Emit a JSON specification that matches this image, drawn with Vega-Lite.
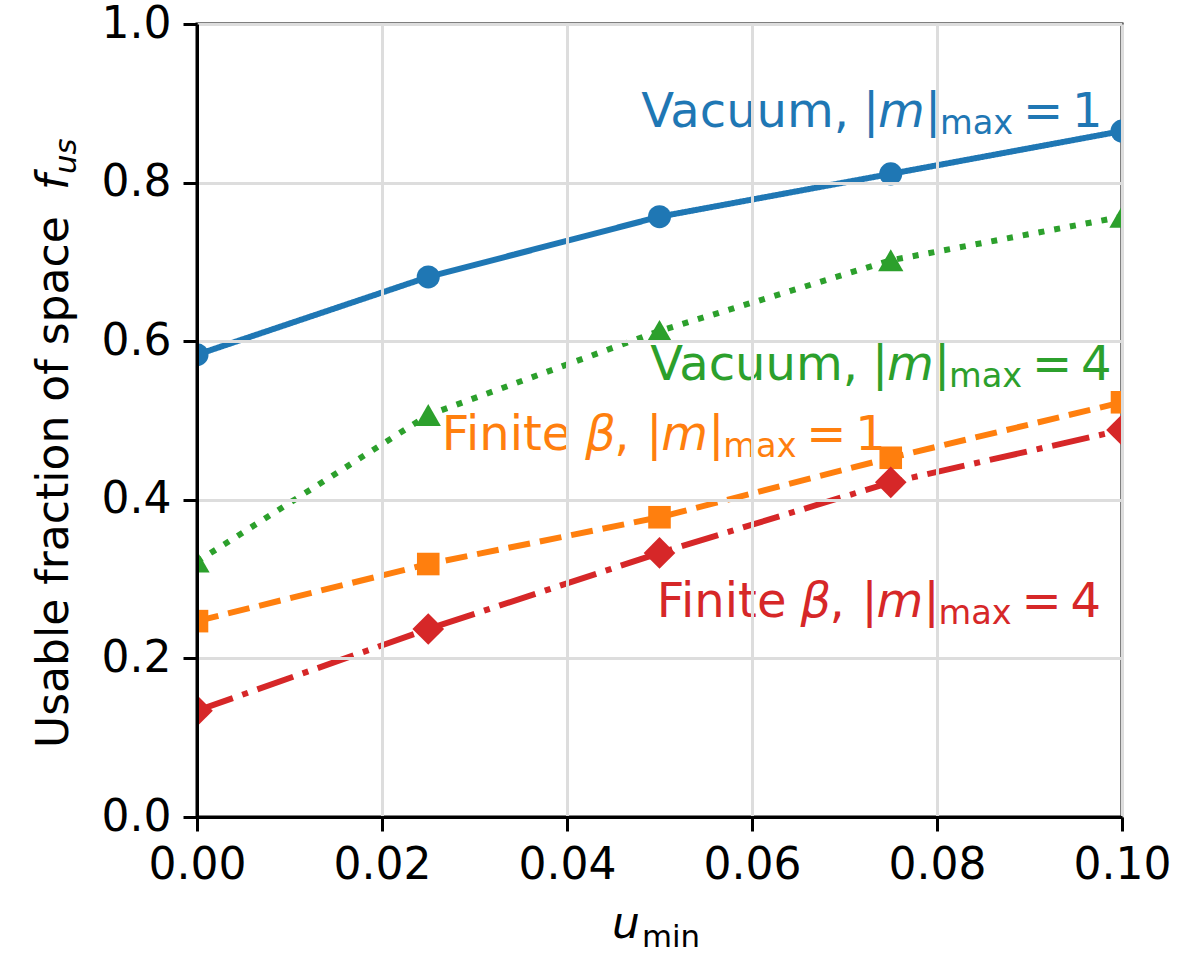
{
  "$schema": "https://vega.github.io/schema/vega-lite/v6.json",
  "width": 925,
  "height": 793,
  "autosize": {"type": "none"},
  "padding": {"left": 197, "top": 24, "right": 56, "bottom": 141},
  "background": "white",
  "config": {
    "view": {"stroke": "black", "strokeWidth": 3},
    "axis": {
      "domainColor": "black", "domainWidth": 3,
      "tickColor": "black", "tickWidth": 3, "tickSize": 14,
      "labelFont": "DejaVu Sans", "labelFontSize": 44, "labelColor": "black", "labelPadding": 12,
      "gridColor": "#dddddd", "gridWidth": 3,
      "labelFlush": false, "labelOverlap": false
    },
    "text": {"font": "DejaVu Sans"}
  },
  "datasets": {
    "pts": [
      {"series": "vac1", "u": 0.0, "f": 0.583},
      {"series": "vac1", "u": 0.025, "f": 0.681},
      {"series": "vac1", "u": 0.05, "f": 0.757},
      {"series": "vac1", "u": 0.075, "f": 0.811},
      {"series": "vac1", "u": 0.1, "f": 0.865},
      {"series": "vac4", "u": 0.0, "f": 0.322},
      {"series": "vac4", "u": 0.025, "f": 0.507},
      {"series": "vac4", "u": 0.05, "f": 0.613},
      {"series": "vac4", "u": 0.075, "f": 0.702},
      {"series": "vac4", "u": 0.1, "f": 0.757},
      {"series": "fin1", "u": 0.0, "f": 0.247},
      {"series": "fin1", "u": 0.025, "f": 0.319},
      {"series": "fin1", "u": 0.05, "f": 0.378},
      {"series": "fin1", "u": 0.075, "f": 0.453},
      {"series": "fin1", "u": 0.1, "f": 0.523},
      {"series": "fin4", "u": 0.0, "f": 0.134},
      {"series": "fin4", "u": 0.025, "f": 0.237},
      {"series": "fin4", "u": 0.05, "f": 0.333},
      {"series": "fin4", "u": 0.075, "f": 0.422},
      {"series": "fin4", "u": 0.1, "f": 0.488}
    ],
    "labels": [
      {"series": "vac1", "g": "V", "pre": "Vacuum,", "num": "1", "lx": 0.0720, "ly": 0.8705},
      {"series": "vac4", "g": "V", "pre": "Vacuum,", "num": "4", "lx": 0.07297, "ly": 0.5511},
      {"series": "fin1", "g": "F", "pre": "Finite", "num": "1", "lx": 0.04858, "ly": 0.4628},
      {"series": "fin4", "g": "F", "pre": "Finite", "num": "4", "lx": 0.07183, "ly": 0.2526}
    ]
  },
  "encoding": {
    "color": {
      "field": "series", "type": "nominal", "legend": null,
      "scale": {"domain": ["vac1", "fin1", "vac4", "fin4"], "range": ["#1f77b4", "#ff7f0e", "#2ca02c", "#d62728"]}
    }
  },
  "layer": [
    {
      "data": {"name": "pts"},
      "mark": {"type": "line", "strokeWidth": 6, "clip": true},
      "encoding": {
        "x": {
          "field": "u", "type": "quantitative",
          "scale": {"domain": [0, 0.1], "nice": false, "zero": false},
          "axis": {"title": null, "values": [0, 0.02, 0.04, 0.06, 0.08, 0.1], "format": ".2f", "zindex": 1}
        },
        "y": {
          "field": "f", "type": "quantitative",
          "scale": {"domain": [0, 1], "nice": false},
          "axis": {"title": null, "values": [0, 0.2, 0.4, 0.6, 0.8, 1.0], "format": ".1f", "zindex": 1}
        },
        "strokeDash": {
          "field": "series", "type": "nominal", "legend": null,
          "scale": {"domain": ["vac1", "fin1", "vac4", "fin4"], "range": [[1, 0], [22, 10], [6, 10], [38, 10, 6, 10]]}
        }
      }
    },
    {
      "data": {"name": "pts"},
      "mark": {"type": "point", "filled": true, "opacity": 1, "clip": true},
      "encoding": {
        "x": {"field": "u", "type": "quantitative"},
        "y": {"field": "f", "type": "quantitative"},
        "shape": {
          "field": "series", "type": "nominal", "legend": null,
          "scale": {"domain": ["vac1", "fin1", "vac4", "fin4"], "range": ["circle", "square", "triangle-up", "diamond"]}
        },
        "size": {
          "field": "series", "type": "nominal", "legend": null,
          "scale": {"type": "ordinal", "domain": ["vac1", "fin1", "vac4", "fin4"], "range": [530, 510, 640, 1000]}
        }
      }
    },
    {
      "data": {"name": "labels"},
      "transform": [{"filter": "datum.g == 'V'"}],
      "mark": {"type": "text", "align": "right", "baseline": "alphabetic", "fontSize": 48, "dx": -14},
      "encoding": {"x": {"field": "lx", "type": "quantitative"}, "y": {"field": "ly", "type": "quantitative"}, "text": {"field": "pre"}}
    },
    {
      "data": {"name": "labels"},
      "transform": [{"filter": "datum.g == 'F'"}],
      "mark": {"type": "text", "align": "right", "baseline": "alphabetic", "fontSize": 48, "dx": -75},
      "encoding": {"x": {"field": "lx", "type": "quantitative"}, "y": {"field": "ly", "type": "quantitative"}, "text": {"field": "pre"}}
    },
    {
      "data": {"name": "labels"},
      "transform": [{"filter": "datum.g == 'F'"}],
      "mark": {"type": "text", "align": "left", "baseline": "alphabetic", "fontSize": 48, "fontStyle": "italic", "dx": -61},
      "encoding": {"x": {"field": "lx", "type": "quantitative"}, "y": {"field": "ly", "type": "quantitative"}, "text": {"value": "β"}}
    },
    {
      "data": {"name": "labels"},
      "transform": [{"filter": "datum.g == 'F'"}],
      "mark": {"type": "text", "align": "left", "baseline": "alphabetic", "fontSize": 48, "dx": -32},
      "encoding": {"x": {"field": "lx", "type": "quantitative"}, "y": {"field": "ly", "type": "quantitative"}, "text": {"value": ","}}
    },
    {
      "data": {"name": "labels"},
      "mark": {"type": "text", "align": "left", "baseline": "alphabetic", "fontSize": 48, "dx": 0},
      "encoding": {"x": {"field": "lx", "type": "quantitative"}, "y": {"field": "ly", "type": "quantitative"}, "text": {"value": "|"}}
    },
    {
      "data": {"name": "labels"},
      "mark": {"type": "text", "align": "left", "baseline": "alphabetic", "fontSize": 48, "fontStyle": "italic", "dx": 15},
      "encoding": {"x": {"field": "lx", "type": "quantitative"}, "y": {"field": "ly", "type": "quantitative"}, "text": {"value": "m"}}
    },
    {
      "data": {"name": "labels"},
      "mark": {"type": "text", "align": "left", "baseline": "alphabetic", "fontSize": 48, "dx": 62},
      "encoding": {"x": {"field": "lx", "type": "quantitative"}, "y": {"field": "ly", "type": "quantitative"}, "text": {"value": "|"}}
    },
    {
      "data": {"name": "labels"},
      "mark": {"type": "text", "align": "left", "baseline": "alphabetic", "fontSize": 33.6, "dx": 77, "dy": 7},
      "encoding": {"x": {"field": "lx", "type": "quantitative"}, "y": {"field": "ly", "type": "quantitative"}, "text": {"value": "max"}}
    },
    {
      "data": {"name": "labels"},
      "mark": {"type": "text", "align": "left", "baseline": "alphabetic", "fontSize": 48, "dx": 160},
      "encoding": {"x": {"field": "lx", "type": "quantitative"}, "y": {"field": "ly", "type": "quantitative"}, "text": {"value": "="}}
    },
    {
      "data": {"name": "labels"},
      "mark": {"type": "text", "align": "left", "baseline": "alphabetic", "fontSize": 48, "dx": 209},
      "encoding": {"x": {"field": "lx", "type": "quantitative"}, "y": {"field": "ly", "type": "quantitative"}, "text": {"field": "num"}}
    },
    {
      "data": {"values": [{"t": "Usable fraction of space"}]},
      "mark": {"type": "text", "align": "left", "baseline": "alphabetic", "fontSize": 44, "angle": 270, "dy": -129},
      "encoding": {"x": {"datum": 0, "type": "quantitative"}, "y": {"datum": 0.087, "type": "quantitative"}, "text": {"field": "t"}, "color": {"value": "black"}}
    },
    {
      "data": {"values": [{"t": "f"}]},
      "mark": {"type": "text", "align": "left", "baseline": "alphabetic", "fontSize": 44, "angle": 270, "fontStyle": "italic", "dx": 558, "dy": -129},
      "encoding": {"x": {"datum": 0, "type": "quantitative"}, "y": {"datum": 0.087, "type": "quantitative"}, "text": {"field": "t"}, "color": {"value": "black"}}
    },
    {
      "data": {"values": [{"t": "us"}]},
      "mark": {"type": "text", "align": "left", "baseline": "alphabetic", "fontSize": 30.8, "angle": 270, "fontStyle": "italic", "dx": 574, "dy": -121},
      "encoding": {"x": {"datum": 0, "type": "quantitative"}, "y": {"datum": 0.087, "type": "quantitative"}, "text": {"field": "t"}, "color": {"value": "black"}}
    },
    {
      "data": {"values": [{"t": "u"}]},
      "mark": {"type": "text", "align": "left", "baseline": "alphabetic", "fontSize": 44, "fontStyle": "italic", "dy": 121},
      "encoding": {"x": {"datum": 0.04486, "type": "quantitative"}, "y": {"datum": 0, "type": "quantitative"}, "text": {"field": "t"}, "color": {"value": "black"}}
    },
    {
      "data": {"values": [{"t": "min"}]},
      "mark": {"type": "text", "align": "left", "baseline": "alphabetic", "fontSize": 30.8, "dx": 30, "dy": 130},
      "encoding": {"x": {"datum": 0.04486, "type": "quantitative"}, "y": {"datum": 0, "type": "quantitative"}, "text": {"field": "t"}, "color": {"value": "black"}}
    }
  ]
}
